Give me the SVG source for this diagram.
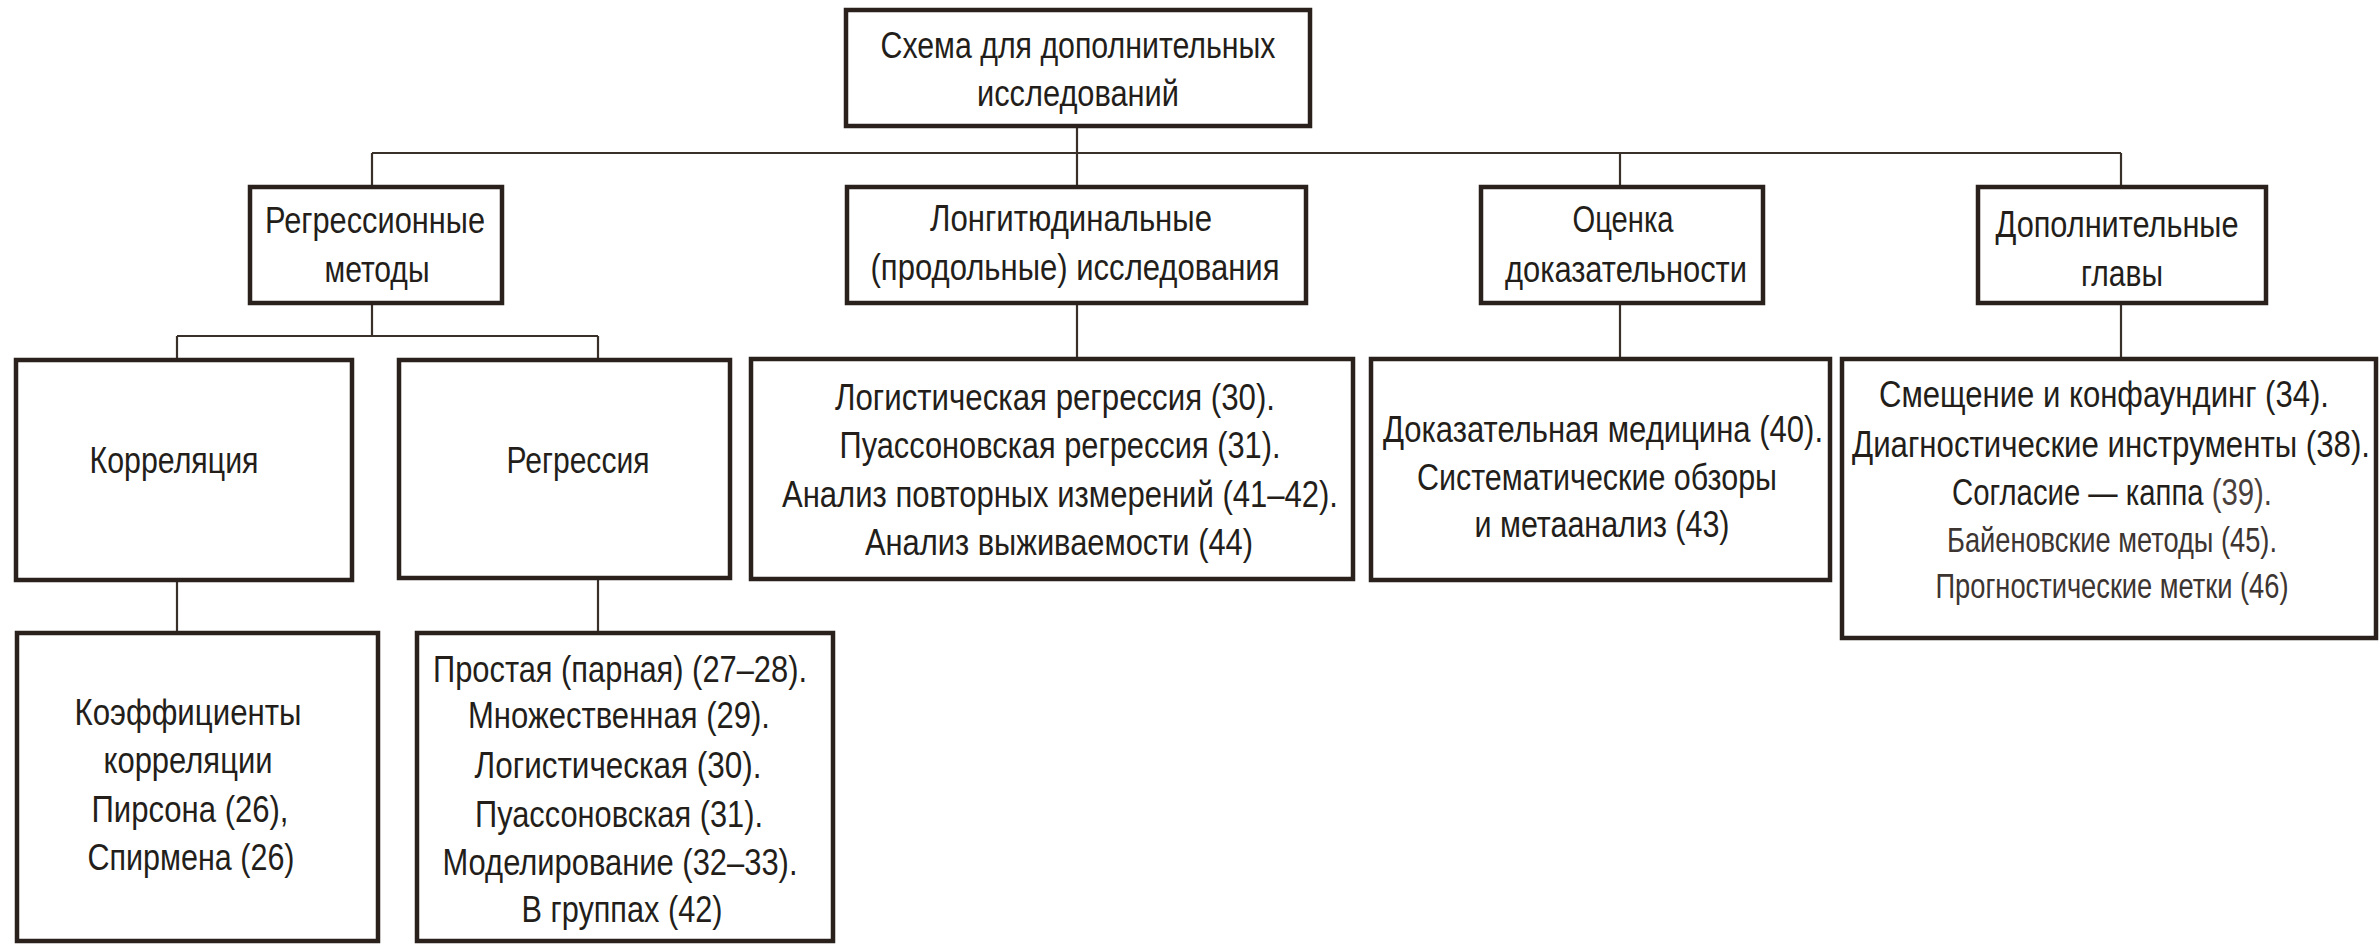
<svg xmlns="http://www.w3.org/2000/svg" width="2379" height="944" viewBox="0 0 2379 944">
<style>
.box{fill:#ffffff;stroke:#2a211c;stroke-width:4.5}
.conn{fill:none;stroke:#3a302a;stroke-width:2.2}
.t{font-family:"Liberation Sans Narrow","Arial Narrow","Liberation Sans",sans-serif;font-size:37px;fill:#231e1a;text-anchor:middle}
.s{font-size:35px;fill:#3d3532}
.lt{fill:#4a403c}
</style>
<rect width="2379" height="944" fill="#ffffff"/>
<g id="connectors">
<path class="conn" d="M1077 128V153M372 153H2121M372 153V187M1077 153V187M1620 153V187M2121 153V187"/>
<path class="conn" d="M372 305V336M177 336H598M177 336V360M598 336V360"/>
<path class="conn" d="M1077 305V359M1620 305V359M2121 305V359"/>
<path class="conn" d="M177 582V633M598 580V633"/>
</g>
<g id="root">
<rect class="box" x="846" y="10" width="464" height="116"/>
<text class="t" x="1078" y="58" textLength="395" lengthAdjust="spacingAndGlyphs">Схема для дополнительных</text>
<text class="t" x="1078" y="106" textLength="202" lengthAdjust="spacingAndGlyphs">исследований</text>
</g>
<g id="regr-methods">
<rect class="box" x="250" y="187" width="252" height="116"/>
<text class="t" x="375" y="233" textLength="220" lengthAdjust="spacingAndGlyphs">Регрессионные</text>
<text class="t" x="377" y="282" textLength="105" lengthAdjust="spacingAndGlyphs">методы</text>
</g>
<g id="longitudinal">
<rect class="box" x="847" y="187" width="459" height="116"/>
<text class="t" x="1071" y="231" textLength="282" lengthAdjust="spacingAndGlyphs">Лонгитюдинальные</text>
<text class="t" x="1075" y="280" textLength="409" lengthAdjust="spacingAndGlyphs">(продольные) исследования</text>
</g>
<g id="evidence">
<rect class="box" x="1481" y="187" width="282" height="116"/>
<text class="t" x="1623" y="232" textLength="101" lengthAdjust="spacingAndGlyphs">Оценка</text>
<text class="t" x="1626" y="282" textLength="242" lengthAdjust="spacingAndGlyphs">доказательности</text>
</g>
<g id="extra">
<rect class="box" x="1978" y="187" width="288" height="116"/>
<text class="t" x="2117" y="237" textLength="243" lengthAdjust="spacingAndGlyphs">Дополнительные</text>
<text class="t" x="2122" y="286" textLength="82" lengthAdjust="spacingAndGlyphs">главы</text>
</g>
<g id="correlation">
<rect class="box" x="16" y="360" width="336" height="220"/>
<text class="t" x="174" y="473" textLength="169" lengthAdjust="spacingAndGlyphs">Корреляция</text>
</g>
<g id="regression">
<rect class="box" x="399" y="360" width="331" height="218"/>
<text class="t" x="578" y="473" textLength="143" lengthAdjust="spacingAndGlyphs">Регрессия</text>
</g>
<g id="long-list">
<rect class="box" x="751" y="359" width="602" height="220"/>
<text class="t" x="1055" y="410" textLength="440" lengthAdjust="spacingAndGlyphs">Логистическая регрессия (30).</text>
<text class="t" x="1060" y="458" textLength="441" lengthAdjust="spacingAndGlyphs">Пуассоновская регрессия (31).</text>
<text class="t" x="1060" y="507" textLength="556" lengthAdjust="spacingAndGlyphs">Анализ повторных измерений (41–42).</text>
<text class="t" x="1059" y="555" textLength="388" lengthAdjust="spacingAndGlyphs">Анализ выживаемости (44)</text>
</g>
<g id="evidence-list">
<rect class="box" x="1371" y="359" width="459" height="221"/>
<text class="t" x="1603" y="442" textLength="440" lengthAdjust="spacingAndGlyphs">Доказательная медицина (40).</text>
<text class="t" x="1597" y="490" textLength="360" lengthAdjust="spacingAndGlyphs">Систематические обзоры</text>
<text class="t" x="1602" y="537" textLength="255" lengthAdjust="spacingAndGlyphs">и метаанализ (43)</text>
</g>
<g id="extra-list">
<rect class="box" x="1842" y="359" width="534" height="279"/>
<text class="t" x="2104" y="407" textLength="450" lengthAdjust="spacingAndGlyphs">Смещение и конфаундинг (34).</text>
<text class="t" x="2111" y="457" textLength="518" lengthAdjust="spacingAndGlyphs">Диагностические инструменты (38).</text>
<text class="t" x="2112" y="505" textLength="320" lengthAdjust="spacingAndGlyphs">Согласие — каппа <tspan class="lt">(39).</tspan></text>
<text class="t s" x="2112" y="552" textLength="330" lengthAdjust="spacingAndGlyphs">Байеновские методы (45).</text>
<text class="t s" x="2112" y="598" textLength="353" lengthAdjust="spacingAndGlyphs">Прогностические метки (46)</text>
</g>
<g id="corr-coef">
<rect class="box" x="17" y="633" width="361" height="308"/>
<text class="t" x="188" y="725" textLength="227" lengthAdjust="spacingAndGlyphs">Коэффициенты</text>
<text class="t" x="188" y="773" textLength="169" lengthAdjust="spacingAndGlyphs">корреляции</text>
<text class="t" x="190" y="822" textLength="197" lengthAdjust="spacingAndGlyphs">Пирсона (26),</text>
<text class="t" x="191" y="870" textLength="207" lengthAdjust="spacingAndGlyphs">Спирмена (26)</text>
</g>
<g id="regr-list">
<rect class="box" x="417" y="633" width="416" height="308"/>
<text class="t" x="620" y="682" textLength="374" lengthAdjust="spacingAndGlyphs">Простая (парная) (27–28).</text>
<text class="t" x="619" y="728" textLength="302" lengthAdjust="spacingAndGlyphs">Множественная (29).</text>
<text class="t" x="618" y="778" textLength="287" lengthAdjust="spacingAndGlyphs">Логистическая (30).</text>
<text class="t" x="619" y="827" textLength="288" lengthAdjust="spacingAndGlyphs">Пуассоновская (31).</text>
<text class="t" x="620" y="875" textLength="355" lengthAdjust="spacingAndGlyphs">Моделирование (32–33).</text>
<text class="t" x="622" y="922" textLength="201" lengthAdjust="spacingAndGlyphs">В группах (42)</text>
</g>
</svg>
